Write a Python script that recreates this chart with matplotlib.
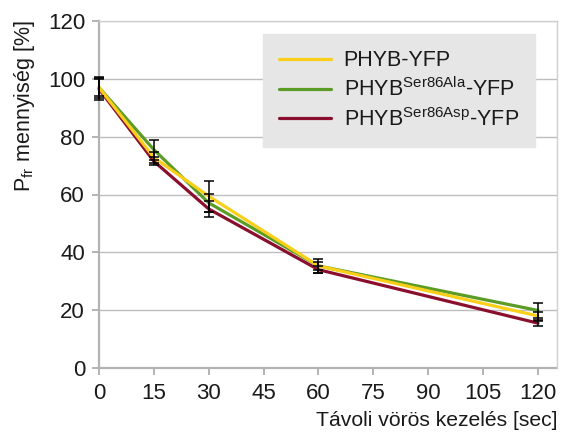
import numpy as np
import matplotlib
matplotlib.use('AGG')
import matplotlib.pyplot as plt

plt.rcParams['font.family'] = ['Liberation Sans', 'DejaVu Sans']
plt.rcParams['mathtext.fontset'] = 'custom'
plt.rcParams['mathtext.rm'] = 'Liberation Sans'
plt.rcParams['mathtext.it'] = 'Liberation Sans:italic'

# far-red treatment time [sec]
times = [0, 15, 30, 60, 120]

# Pfr amount [%] per construct, with error bars
wt_mean = [97.0, 72.8, 59.4, 35.3, 18.0]
wt_err = [3.6, 2.0, 5.4, 2.5, 1.5]
ala_mean = [97.0, 75.5, 57.1, 35.3, 19.9]
ala_err = [3.0, 3.5, 3.0, 1.5, 2.5]
asp_mean = [96.5, 71.5, 55.0, 34.0, 15.5]
asp_err = [3.8, 1.4, 2.9, 1.2, 0.9]

labels = ['PHYB-YFP',
          r'PHYB$^{\mathrm{Ser86Ala}}$-YFP',
          r'PHYB$^{\mathrm{Ser86Asp}}$-YFP']
colors = ['#F9CF1A', '#5A9C26', '#8A0F2E']

fig = plt.figure(figsize=(5.61, 4.34), dpi=100)
ax = fig.add_axes([99/561, 1 - 368/434, 458/561, 347/434])

series = [(wt_mean, wt_err), (ala_mean, ala_err), (asp_mean, asp_err)]
lines = {}
# draw red first so yellow ends up on top
for i in [2, 1, 0]:
    m, e = series[i]
    ln, = ax.plot(times, m, color=colors[i], lw=2.3, zorder=3 + (2 - i) * 0.1,
                  label=labels[i], solid_capstyle='round', clip_on=False)
    lines[i] = ln
for i in [2, 1, 0]:
    m, e = series[i]
    eb = ax.errorbar(times, m, yerr=e, fmt='none', ecolor='black', elinewidth=1.1,
                     capsize=3.5, capthick=1.1, zorder=5)
    for art in eb.lines[1] + eb.lines[2]:
        art.set_clip_on(False)

ax.set_xlim(0, 125.2)
ax.set_ylim(0, 120)
ax.set_xticks([0, 15, 30, 45, 60, 75, 90, 105, 120])
ax.set_yticks(np.arange(0, 121, 20))
ax.yaxis.grid(True, color='#bdbdbd', lw=1.0)
ax.set_axisbelow(True)

for s in ['left', 'bottom']:
    ax.spines[s].set_color('#b3b3b3')
    ax.spines[s].set_linewidth(1.6)
    ax.spines[s].set_zorder(1)
for s in ['top', 'right']:
    ax.spines[s].set_color('#d0d0d0')
    ax.spines[s].set_linewidth(1.0)

ax.tick_params(axis='both', labelsize=16, colors='#b3b3b3', labelcolor='#1a1a1a',
               width=1.4, length=5)
ax.tick_params(axis='x', pad=6)
ax.tick_params(axis='y', pad=5)

fig.text(25/561, 1 - 20/434, r'P$_{\mathrm{fr}}$ mennyiség [%]', rotation=90,
         ha='center', va='top', fontsize=15.5, color='#1a1a1a')
fig.text(557/561, 1 - 421/434, 'Távoli vörös kezelés [sec]', ha='right', va='center',
         fontsize=15.2, color='#1a1a1a')

handles = [lines[i] for i in [0, 1, 2]]
leg = ax.legend(handles, labels, loc='upper right', bbox_to_anchor=(0.952, 0.962),
                fontsize=15.5, frameon=True, fancybox=False, facecolor='#e6e6e6',
                edgecolor='#e6e6e6', framealpha=1, handlelength=2.4,
                handletextpad=0.6, labelspacing=0.3, borderpad=0.75,
                borderaxespad=0)
leg.set_zorder(10)
for t in leg.get_texts():
    t.set_color('#1a1a1a')

fig.savefig('out.png', dpi=100)
